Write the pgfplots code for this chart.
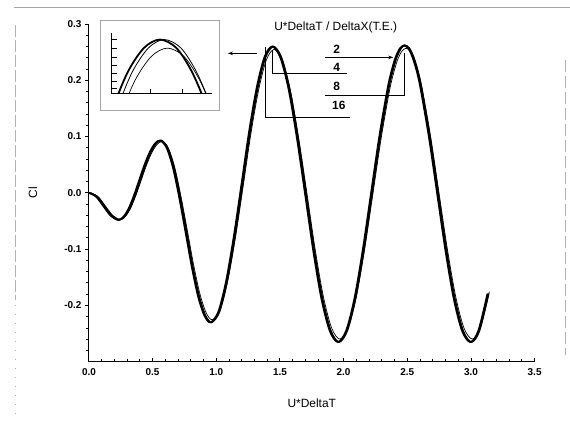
\documentclass[border=0pt]{standalone}
\usepackage{fontspec}
\setmainfont{Liberation Sans}
\usepackage{pgfplots}
\usepackage{pgfplotstable}
\pgfplotsset{compat=1.18}
\usetikzlibrary{arrows.meta}

\pgfplotstableread{
x xb xc xd y yd
0.000 0.005 0.009 0.015 0.0000 0.0000
0.058 0.063 0.067 0.073 -0.0070 -0.0069
0.115 0.120 0.124 0.130 -0.0240 -0.0235
0.173 0.178 0.182 0.188 -0.0410 -0.0402
0.230 0.235 0.239 0.245 -0.0480 -0.0470
0.271 0.276 0.280 0.286 -0.0426 -0.0417
0.313 0.318 0.322 0.328 -0.0274 -0.0269
0.354 0.359 0.363 0.369 -0.0045 -0.0044
0.395 0.400 0.404 0.410 0.0225 0.0221
0.436 0.441 0.445 0.451 0.0495 0.0485
0.478 0.483 0.487 0.493 0.0724 0.0710
0.519 0.524 0.528 0.534 0.0876 0.0858
0.560 0.565 0.569 0.575 0.0930 0.0911
0.609 0.614 0.618 0.624 0.0807 0.0791
0.659 0.664 0.668 0.674 0.0457 0.0448
0.708 0.713 0.717 0.723 -0.0067 -0.0066
0.758 0.763 0.767 0.773 -0.0685 -0.0671
0.807 0.812 0.816 0.822 -0.1303 -0.1277
0.856 0.861 0.865 0.871 -0.1827 -0.1790
0.906 0.911 0.915 0.921 -0.2177 -0.2133
0.955 0.960 0.964 0.970 -0.2300 -0.2254
1.016 1.021 1.025 1.031 -0.2114 -0.2072
1.076 1.081 1.085 1.091 -0.1582 -0.1550
1.137 1.142 1.146 1.152 -0.0788 -0.0772
1.198 1.203 1.207 1.213 0.0150 0.0147
1.258 1.263 1.267 1.273 0.1088 0.1066
1.319 1.324 1.328 1.334 0.1882 0.1844
1.379 1.384 1.388 1.394 0.2414 0.2366
1.440 1.445 1.449 1.455 0.2600 0.2548
1.504 1.509 1.513 1.519 0.2400 0.2352
1.569 1.574 1.578 1.584 0.1831 0.1794
1.633 1.638 1.642 1.648 0.0980 0.0960
1.698 1.703 1.707 1.713 -0.0025 -0.0025
1.762 1.767 1.771 1.777 -0.1030 -0.1009
1.826 1.831 1.835 1.841 -0.1881 -0.1843
1.891 1.896 1.900 1.906 -0.2450 -0.2401
1.955 1.960 1.964 1.970 -0.2650 -0.2597
2.020 2.025 2.029 2.035 -0.2449 -0.2400
2.085 2.090 2.094 2.100 -0.1878 -0.1840
2.150 2.155 2.159 2.165 -0.1023 -0.1003
2.215 2.220 2.224 2.230 -0.0015 -0.0015
2.280 2.285 2.289 2.295 0.0993 0.0973
2.345 2.350 2.354 2.360 0.1848 0.1811
2.378 2.383 2.387 2.393 0.2176 0.2132
2.410 2.415 2.419 2.425 0.2419 0.2371
2.443 2.448 2.452 2.458 0.2569 0.2518
2.475 2.480 2.484 2.490 0.2620 0.2568
2.508 2.513 2.517 2.523 0.2569 0.2518
2.540 2.545 2.549 2.555 0.2419 0.2371
2.573 2.578 2.582 2.588 0.2176 0.2132
2.605 2.610 2.614 2.620 0.1848 0.1811
2.670 2.675 2.679 2.685 0.0993 0.0973
2.735 2.740 2.744 2.750 -0.0015 -0.0015
2.800 2.805 2.809 2.815 -0.1023 -0.1003
2.865 2.870 2.874 2.880 -0.1878 -0.1840
2.930 2.935 2.939 2.945 -0.2449 -0.2400
2.995 3.000 3.004 3.010 -0.2650 -0.2597
3.058 3.063 3.067 3.073 -0.2450 -0.2401
3.130 3.135 3.139 3.145 -0.1790 -0.1754
}\cldata

\begin{document}
\begin{tikzpicture}
\path (0bp,0bp) rectangle (570bp,425bp);
% scan frame remnants
\draw[gray!70, line width=0.8bp] (14bp,418bp) -- (570bp,418bp);
\draw[gray!60, dash pattern=on 12bp off 3bp, line width=0.6bp] (15bp,400bp) -- (15bp,125bp);
\draw[gray!60, dash pattern=on 1bp off 8bp, line width=0.6bp] (15bp,120bp) -- (15bp,5bp);
\draw[gray!60, dash pattern=on 12bp off 4bp, line width=0.6bp] (566bp,365bp) -- (566bp,70bp);

\begin{axis}[
  at={(89bp,63bp)}, anchor=south west,
  scale only axis, width=446bp, height=338bp,
  xmin=0, xmax=3.5, ymin=-0.3, ymax=0.3,
  axis x line*=bottom, axis y line*=left,
  axis line style={line width=1.1bp, black},
  xtick={0,0.5,1,1.5,2,2.5,3,3.5}, minor x tick num=4,
  ytick={-0.2,-0.1,0,0.1,0.2,0.3},
  minor ytick={-0.28,-0.26,-0.24,-0.22,-0.18,-0.16,-0.14,-0.12,-0.08,-0.06,-0.04,-0.02,0.02,0.04,0.06,0.08,0.12,0.14,0.16,0.18,0.22,0.24,0.26,0.28},
  xtick align=inside, ytick align=outside,
  major tick length=4bp, minor tick length=2.5bp,
  every tick/.style={black, line width=0.9bp},
  tick label style={font=\fontsize{10}{12}\selectfont\bfseries},
  /pgf/number format/fixed, /pgf/number format/fixed zerofill,
  /pgf/number format/precision=1, /pgf/number format/assume math mode=true,
  xticklabel style={yshift=-3bp},
  xlabel={U*DeltaT}, ylabel={Cl},
  xlabel style={at={(rel axis cs:0.5,-0.124)}, anchor=center, font=\fontsize{12}{14}\selectfont},
  ylabel style={at={(rel axis cs:-0.126,0.5)}, anchor=center, font=\fontsize{12}{14}\selectfont},
  clip=false,
]
\addplot[black, line width=1.8bp, smooth] table[x=x, y=y]{\cldata};
\addplot[black, line width=1.5bp, smooth] table[x=xb, y=y]{\cldata};
\addplot[black, line width=1.5bp, smooth] table[x=xc, y=y]{\cldata};
\addplot[black, line width=0.7bp, smooth] table[x=xd, y=yd]{\cldata};

\node[font=\fontsize{12}{14}\selectfont] at (axis cs:1.938,0.2938) {U*DeltaT / DeltaX(T.E.)};
\begin{scope}[font=\fontsize{12}{14}\selectfont\bfseries]
\node at (axis cs:1.946,0.2549) {2};
\node at (axis cs:1.946,0.2230) {4};
\node at (axis cs:1.946,0.1894) {8};
\node at (axis cs:1.962,0.1558) {16};
\end{scope}
\draw[line width=0.9bp, -{Stealth[length=5bp,width=3.5bp]}] (axis cs:1.852,0.2407) -- (axis cs:2.39,0.2407);
\draw[line width=0.9bp] (axis cs:2.025,0.2124) -- (axis cs:1.444,0.2124) -- (axis cs:1.444,0.253);
\draw[line width=0.9bp] (axis cs:1.852,0.1735) -- (axis cs:2.480,0.1735) -- (axis cs:2.480,0.2478);
\draw[line width=0.9bp] (axis cs:2.048,0.1345) -- (axis cs:1.389,0.1345) -- (axis cs:1.389,0.2584);
\draw[line width=0.9bp, -{Stealth[length=5bp,width=3.5bp]}] (axis cs:1.318,0.2478) -- (axis cs:1.091,0.2478);
\end{axis}

% inset
\draw[gray!70, line width=0.7bp] (100bp,315bp) rectangle (220bp,405bp);
\begin{axis}[
  at={(112bp,331bp)}, anchor=south west,
  scale only axis, width=100bp, height=61bp,
  xmin=2.379, xmax=2.579, ymin=0.229, ymax=0.266,
  axis x line*=bottom, axis y line*=left,
  axis line style={line width=1bp, black},
  ytick={0.2326,0.2369,0.2417,0.2466,0.2514,0.2569,0.2618},
  xtick={2.455,2.521},
  xticklabels={}, yticklabels={},
  tick align=inside, major tick length=5bp,
  every tick/.style={black, line width=0.8bp},
  minor tick num=0,
]
\addplot[black, line width=1.8bp, smooth] table[x=x, y=y]{\cldata};
\addplot[black, line width=0.8bp, smooth] table[x=xc, y=y]{\cldata};
\addplot[black, line width=0.7bp, smooth] table[x=xd, y=yd]{\cldata};
\end{axis}
\end{tikzpicture}
\end{document}
